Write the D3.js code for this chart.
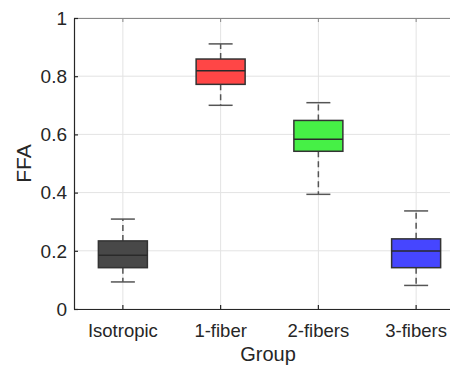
<!DOCTYPE html>
<html>
<head>
<meta charset="utf-8">
<script src="https://cdn.jsdelivr.net/npm/d3@7"></script>
<style>
  body { margin: 0; background: #fff; }
  svg { display: block; font-family: "Liberation Sans", Arial, sans-serif; }
</style>
</head>
<body>
<div id="chart"></div>
<script>
const groups = ['Isotropic', '1-fiber', '2-fibers', '3-fibers'];
const whiskerLow = [0.093, 0.700, 0.394, 0.081];
const q1 = [0.142, 0.772, 0.542, 0.142];
const median = [0.185, 0.819, 0.583, 0.199];
const q3 = [0.234, 0.859, 0.648, 0.241];
const whiskerHigh = [0.309, 0.911, 0.709, 0.337];
const fills = ['#484848', '#ff4646', '#46f046', '#4646ff'];
const yTicks = [0, 0.2, 0.4, 0.6, 0.8, 1];

const chart = (() => {
    const width = 450;
    const height = 365;
    const margin = { top: 18, left: 74, right: -15, bottom: 56 };

    const svg = d3.select('#chart')
        .append('svg')
        .attr('width', width)
        .attr('height', height);

    const x = d3.scaleBand()
        .domain(groups)
        .range([margin.left, width - margin.right])
        .paddingInner(0)
        .paddingOuter(0);

    const y = d3.scaleLinear()
        .domain([0, 1])
        .range([height - margin.bottom, margin.top]);

    const cx = g => x(g) + x.bandwidth() / 2;
    const boxW = 49;
    const capW = 24;

    // grid
    svg.append('g')
        .selectAll('line.gx')
        .data(groups)
        .join('line')
        .attr('x1', cx).attr('x2', cx)
        .attr('y1', y(0)).attr('y2', y(1))
        .attr('stroke', '#e3e3e3');

    svg.append('g')
        .selectAll('line.gy')
        .data(yTicks)
        .join('line')
        .attr('x1', margin.left).attr('x2', width - margin.right)
        .attr('y1', d => y(d)).attr('y2', d => y(d))
        .attr('stroke', '#e3e3e3');

    const data = groups.map((g, i) => ({
        g, lo: whiskerLow[i], q1: q1[i], med: median[i], q3: q3[i], hi: whiskerHigh[i], fill: fills[i]
    }));

    const box = svg.append('g')
        .selectAll('g')
        .data(data)
        .join('g');

    // whiskers
    box.append('line')
        .attr('x1', d => cx(d.g)).attr('x2', d => cx(d.g))
        .attr('y1', d => y(d.q3)).attr('y2', d => y(d.hi))
        .attr('stroke', '#555').attr('stroke-width', 1.5)
        .attr('stroke-dasharray', '6,4');
    box.append('line')
        .attr('x1', d => cx(d.g)).attr('x2', d => cx(d.g))
        .attr('y1', d => y(d.q1)).attr('y2', d => y(d.lo))
        .attr('stroke', '#555').attr('stroke-width', 1.5)
        .attr('stroke-dasharray', '6,4');
    box.append('line')
        .attr('x1', d => cx(d.g) - capW / 2).attr('x2', d => cx(d.g) + capW / 2)
        .attr('y1', d => y(d.hi)).attr('y2', d => y(d.hi))
        .attr('stroke', '#555').attr('stroke-width', 1.5);
    box.append('line')
        .attr('x1', d => cx(d.g) - capW / 2).attr('x2', d => cx(d.g) + capW / 2)
        .attr('y1', d => y(d.lo)).attr('y2', d => y(d.lo))
        .attr('stroke', '#555').attr('stroke-width', 1.5);

    box.append('rect')
        .attr('x', d => cx(d.g) - boxW / 2)
        .attr('y', d => y(d.q3))
        .attr('width', boxW)
        .attr('height', d => y(d.q1) - y(d.q3))
        .attr('fill', d => d.fill)
        .attr('stroke', '#333').attr('stroke-width', 1.5);

    box.append('line')
        .attr('x1', d => cx(d.g) - boxW / 2).attr('x2', d => cx(d.g) + boxW / 2)
        .attr('y1', d => y(d.med)).attr('y2', d => y(d.med))
        .attr('stroke', '#2a2a2a').attr('stroke-width', 1.5);

    // top border
    svg.append('g')
        .attr('transform', `translate(0, ${margin.top})`)
        .call(d3.axisBottom(x).tickSize(4).tickFormat(''))
        .call(g => g.selectAll('path, line').attr('stroke', '#888'));

    const xAxis = g => g
        .attr('transform', `translate(0, ${height - margin.bottom})`)
        .call(d3.axisTop(x).tickSize(4).tickSizeOuter(0).tickFormat(''))
        .call(g => g.selectAll('path, line').attr('stroke', '#262626').attr('stroke-width', 1.2));

    svg.append('g').call(xAxis);

    svg.append('g')
        .selectAll('text')
        .data(groups)
        .join('text')
        .attr('x', cx)
        .attr('y', 337)
        .attr('text-anchor', 'middle')
        .attr('font-size', '18.5px')
        .attr('fill', '#262626')
        .text(d => d);

    const yAxis = g => g
        .attr('transform', `translate(${margin.left}, 0)`)
        .call(d3.axisRight(y).tickValues(yTicks).tickSize(4).tickSizeOuter(0).tickFormat(''))
        .call(g => g.selectAll('path, line').attr('stroke', '#262626').attr('stroke-width', 1.2));

    svg.append('g').call(yAxis);

    svg.append('g')
        .selectAll('text')
        .data(yTicks)
        .join('text')
        .attr('x', 67)
        .attr('y', d => y(d))
        .attr('dy', '0.36em')
        .attr('text-anchor', 'end')
        .attr('font-size', '19px')
        .attr('fill', '#262626')
        .text(d3.format('~g'));

    svg.append('text')
        .attr('transform', `translate(31, ${(y(0) + y(1)) / 2}) rotate(-90)`)
        .attr('text-anchor', 'middle')
        .attr('font-size', '21px')
        .attr('fill', '#262626')
        .text('FFA');

    svg.append('text')
        .attr('x', 268)
        .attr('y', 361)
        .attr('text-anchor', 'middle')
        .attr('font-size', '20px')
        .attr('fill', '#262626')
        .text('Group');
})();
</script>
</body>
</html>
